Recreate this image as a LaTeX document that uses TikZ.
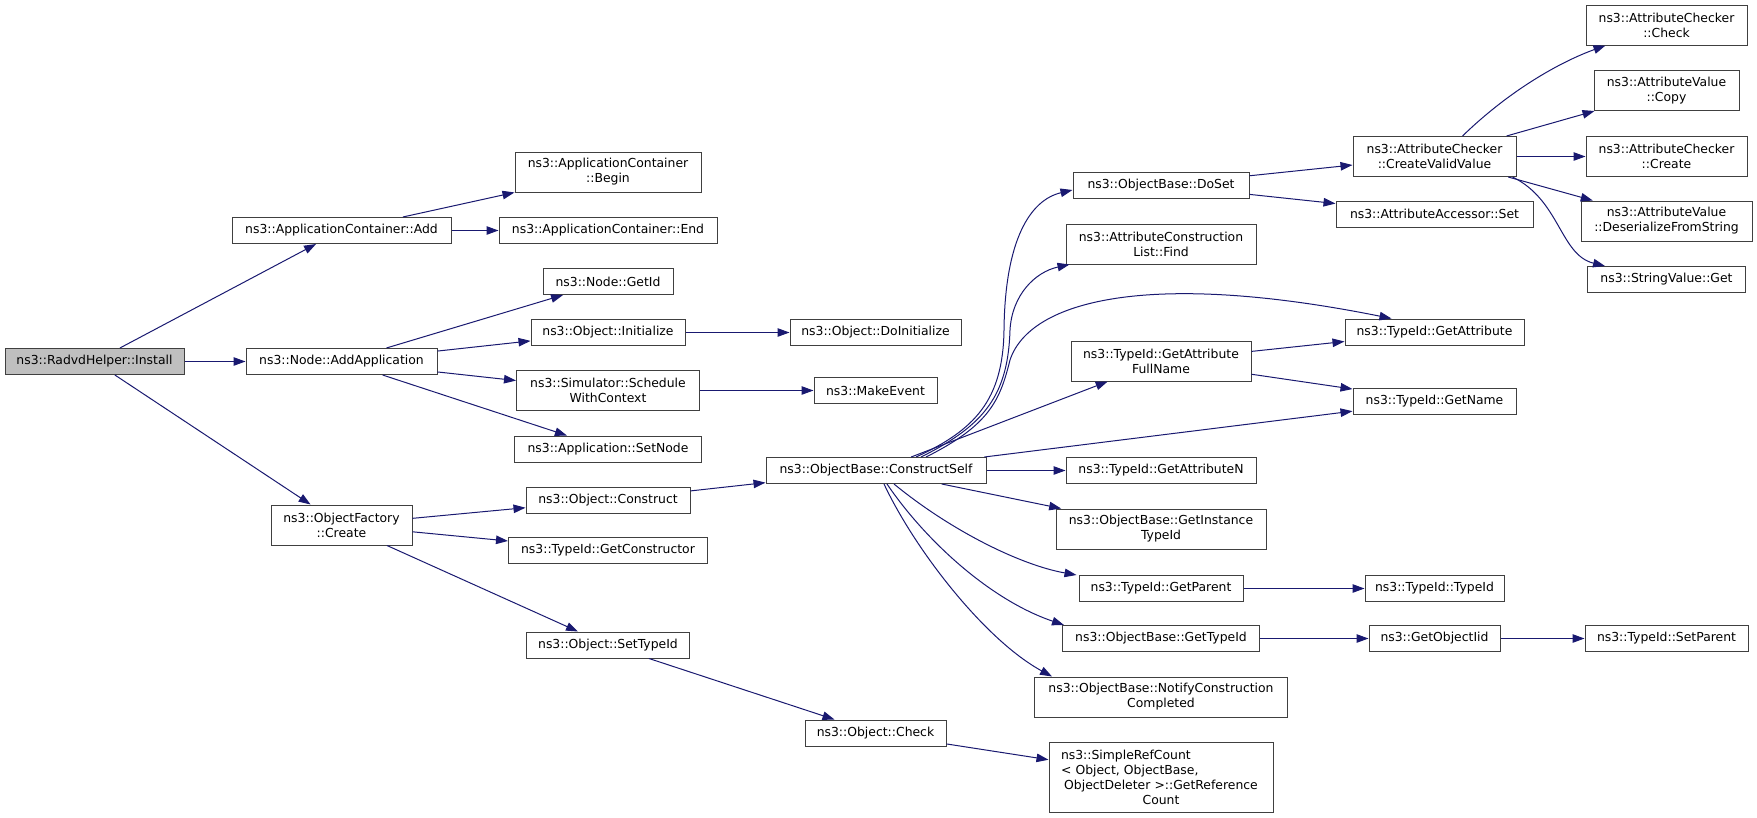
\documentclass[tikz,border=0pt]{standalone}
\usepackage{fontspec}
\setmainfont{DejaVu Sans}
\usepackage{xcolor}
\usepackage{tikz}
\usetikzlibrary{arrows.meta}

\definecolor{navy}{HTML}{191970}

\begin{document}
\begin{tikzpicture}[x=1pt, y=-1pt,
  box/.style={draw=black!75, fill=white, line width=1pt, inner sep=0pt,
              minimum height=26pt, align=center,
              font=\fontsize{12.4}{15}\selectfont},
  tall/.style={minimum height=40pt},
  root/.style={fill=gray!50},
  arrow/.style={-{Triangle[length=12pt,width=8.5pt]}, line width=1pt, navy}
]
  \useasboundingbox (0,0) rectangle (1757,817);

  % caller and first level
  \node[box, root, minimum width=179pt] (install) at (94.5,361.5) {ns3::RadvdHelper::Install};
  \node[box, minimum width=219pt] (add)    at (341.5,230.5) {ns3::ApplicationContainer::Add};
  \node[box, minimum width=191pt] (addapp) at (341.5,361.5) {ns3::Node::AddApplication};
  \node[box, tall, minimum width=141pt] (create) at (341.5,525) {ns3::ObjectFactory\\::Create};

  % second level
  \node[box, tall, minimum width=186pt] (begin) at (608,172) {ns3::ApplicationContainer\\::Begin};
  \node[box, minimum width=218pt] (end)       at (608,230.5) {ns3::ApplicationContainer::End};
  \node[box, minimum width=130pt] (getid)     at (608,281.5) {ns3::Node::GetId};
  \node[box, minimum width=154pt] (init)      at (608,332.5) {ns3::Object::Initialize};
  \node[box, tall, minimum width=183pt] (sched) at (608,390.5) {ns3::Simulator::Schedule\\WithContext};
  \node[box, minimum width=187pt] (setnode)   at (608,449)   {ns3::Application::SetNode};
  \node[box, minimum width=164pt] (construct) at (608,500)   {ns3::Object::Construct};
  \node[box, minimum width=199pt] (getctor)   at (608,550.5) {ns3::TypeId::GetConstructor};
  \node[box, minimum width=163pt] (settypeid) at (608,645)   {ns3::Object::SetTypeId};

  % third level
  \node[box, minimum width=171pt] (doinit)    at (875.5,332.5) {ns3::Object::DoInitialize};
  \node[box, minimum width=123pt] (makeevent) at (875.5,390.5) {ns3::MakeEvent};
  \node[box, minimum width=220pt] (cself)     at (876,470.5)   {ns3::ObjectBase::ConstructSelf};
  \node[box, minimum width=141pt] (check)     at (875.5,733)   {ns3::Object::Check};

  % fourth level
  \node[box, minimum width=176pt] (doset)     at (1161,185)   {ns3::ObjectBase::DoSet};
  \node[box, tall, minimum width=190pt] (find) at (1161,244)  {ns3::AttributeConstruction\\List::Find};
  \node[box, tall, minimum width=180pt] (fullname) at (1161,361) {ns3::TypeId::GetAttribute\\FullName};
  \node[box, minimum width=190pt] (attrn)     at (1161,470.5) {ns3::TypeId::GetAttributeN};
  \node[box, tall, minimum width=210pt] (instance) at (1161,529) {ns3::ObjectBase::GetInstance\\TypeId};
  \node[box, minimum width=164pt] (getparent) at (1161,588.5) {ns3::TypeId::GetParent};
  \node[box, minimum width=197pt] (gettypeid) at (1161,638.5) {ns3::ObjectBase::GetTypeId};
  \node[box, tall, minimum width=253pt] (notify) at (1161,697) {ns3::ObjectBase::NotifyConstruction\\Completed};
  \node[box, minimum width=224pt, minimum height=70pt, text width=200pt, align=left] (refcount) at (1161,777)
    {ns3::SimpleRefCount\\< Object, ObjectBase,\\\makebox[200pt][c]{ObjectDeleter >::GetReference}\\\makebox[200pt][c]{Count}};

  % fifth level
  \node[box, tall, minimum width=163pt] (cvv) at (1434.5,156.5) {ns3::AttributeChecker\\::CreateValidValue};
  \node[box, minimum width=197pt] (accset)  at (1434.5,214)   {ns3::AttributeAccessor::Set};
  \node[box, minimum width=179pt] (getattr) at (1434.5,332)   {ns3::TypeId::GetAttribute};
  \node[box, minimum width=163pt] (getname) at (1434.5,401)   {ns3::TypeId::GetName};
  \node[box, minimum width=139pt] (typeid)  at (1434.5,588.5) {ns3::TypeId::TypeId};
  \node[box, minimum width=131pt] (objiid)  at (1434.5,638.5) {ns3::GetObjectIid};

  % sixth level
  \node[box, tall, minimum width=161pt] (achk)    at (1666.5,25)   {ns3::AttributeChecker\\::Check};
  \node[box, tall, minimum width=145pt] (copy)    at (1666.5,90.5) {ns3::AttributeValue\\::Copy};
  \node[box, tall, minimum width=161pt] (acreate) at (1666.5,156.5) {ns3::AttributeChecker\\::Create};
  \node[box, tall, minimum width=171pt] (deser)   at (1666.5,221)  {ns3::AttributeValue\\::DeserializeFromString};
  \node[box, minimum width=158pt] (strget)    at (1666.5,279.5) {ns3::StringValue::Get};
  \node[box, minimum width=163pt] (setparent) at (1666.5,638.5) {ns3::TypeId::SetParent};

  % calls
  \draw[arrow] (install) -- (add);
  \draw[arrow] (install) -- (addapp);
  \draw[arrow] (install) -- (create);
  \draw[arrow] (add) -- (begin);
  \draw[arrow] (add) -- (end);
  \draw[arrow] (addapp) -- (getid);
  \draw[arrow] (addapp) -- (init);
  \draw[arrow] (addapp) -- (sched);
  \draw[arrow] (addapp) -- (setnode);
  \draw[arrow] (init) -- (doinit);
  \draw[arrow] (sched) -- (makeevent);
  \draw[arrow] (create) -- (construct);
  \draw[arrow] (create) -- (getctor);
  \draw[arrow] (create) -- (settypeid);
  \draw[arrow] (construct) -- (cself);
  \draw[arrow] (settypeid) -- (check);
  \draw[arrow] (check) -- (refcount);

  % ConstructSelf fan
  \draw[arrow] ([xshift=40pt]cself.north) .. controls (975,430) and (1003,400) .. (1004,330)
    .. controls (1005,240) and (1030,200) .. ([yshift=-5pt]doset.west);
  \draw[arrow] ([xshift=45pt]cself.north) .. controls (985,425) and (1008,395) .. (1010,330)
    .. controls (1012,295) and (1035,272) .. ([xshift=4pt]find.south west);
  \draw[arrow] ([xshift=50pt]cself.north) .. controls (990,425) and (1000,400) .. (1010,360)
    .. controls (1030,300) and (1150,270) .. ([xshift=-43pt]getattr.north);
  \draw[arrow] (cself) -- (fullname);
  \draw[arrow] (cself) -- (getname);
  \draw[arrow] (cself) -- (attrn);
  \draw[arrow] (cself) -- (instance);
  \draw[arrow] ([xshift=18pt]cself.south) .. controls (950,530) and (1020,565) .. ([xshift=-2pt]getparent.north west);
  \draw[arrow] ([xshift=11pt]cself.south) .. controls (925,540) and (990,600) .. ([xshift=2pt]gettypeid.north west);
  \draw[arrow] ([xshift=8pt]cself.south) .. controls (915,550) and (985,640) .. ([xshift=18pt]notify.north west);

  \draw[arrow] (doset) -- (cvv);
  \draw[arrow] (doset) -- (accset);
  \draw[arrow] (fullname) -- (getattr);
  \draw[arrow] (fullname) -- (getname);
  \draw[arrow] (getparent) -- (typeid);
  \draw[arrow] (gettypeid) -- (objiid);
  \draw[arrow] (objiid) -- (setparent);

  \draw[arrow] ([xshift=28pt]cvv.north) .. controls (1510,90) and (1560,62) .. ([xshift=20pt]achk.south west);
  \draw[arrow] (cvv) -- (copy);
  \draw[arrow] (cvv) -- (acreate);
  \draw[arrow] (cvv) -- (deser);
  \draw[arrow] ([xshift=78pt]cvv.south) .. controls (1560,200) and (1560,255) .. ([xshift=18pt]strget.north west);
\end{tikzpicture}
\end{document}
